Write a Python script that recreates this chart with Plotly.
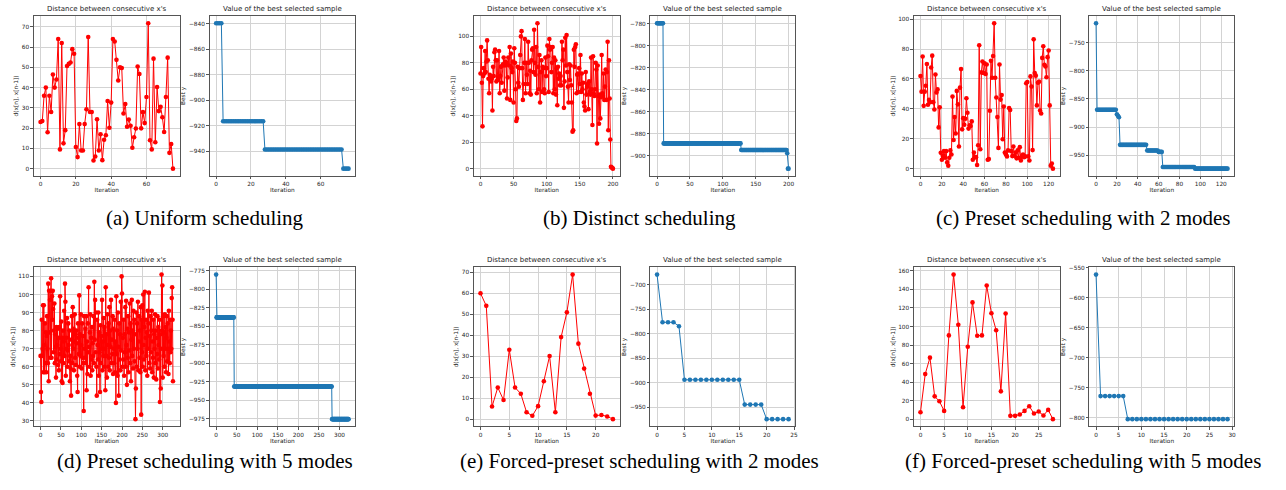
import numpy as np
import plotly.graph_objects as go

# ---------------- data ----------------
# (a) Uniform scheduling
a_dist = [23, 23.5, 36, 40, 18, 36, 28, 46.5, 40, 44, 64, 9.5, 62, 12.5, 19, 50.7, 51.7, 52.4, 59, 56.7,
          10.7, 5.7, 22, 9, 9, 22, 29.3, 65, 28, 28, 4, 6, 24.4, 9, 17, 4.2, 14.3, 16.5, 33.4, 20.2,
          32.6, 64, 62.8, 53.7, 43.5, 50, 49.7, 27.2, 31.9, 20.7, 24.3, 21.2, 10.3, 15.5, 19.8, 50.4, 46.7, 19.9, 27.9, 22.5,
          35.4, 71.8, 14, 9.5, 54.3, 13, 40.3, 28.4, 30.5, 25.4, 18.1, 35.4, 54.8, 7.8, 12.2, 0]
a_best_levels = [-839.5, -916.6, -938.7, -953.8]
a_best_counts = [4, 24, 45, 4]

# (b) Distinct scheduling
b_dist = [72, 92, 65, 32, 70, 76, 72, 89, 73, 81, 97, 82, 68, 57, 71, 70, 66, 68, 44, 77,
          70, 88, 90, 82, 66, 82, 67, 69, 89, 57, 70, 77, 65, 78, 79, 84, 59, 78, 81, 80,
          53, 69, 84, 78, 92, 52, 87, 76, 73, 81, 50, 91, 80, 60, 36, 38, 77, 65, 62, 76,
          86, 100, 104, 76, 52, 64, 80, 98, 57, 80, 71, 64, 96, 80, 57, 74, 56, 82, 90, 91,
          73, 105, 80, 71, 92, 57, 110, 77, 60, 86, 50, 73, 82, 58, 77, 76, 60, 57, 84, 70,
          76, 93, 85, 58, 98, 90, 92, 73, 80, 92, 57, 84, 60, 82, 56, 76, 48, 77, 68, 72,
          63, 70, 63, 96, 82, 90, 46, 66, 99, 78, 101, 73, 62, 50, 79, 67, 78, 63, 50, 28,
          29, 90, 77, 92, 94, 57, 71, 72, 58, 76, 64, 86, 58, 72, 60, 65, 50, 47, 44, 73,
          56, 62, 64, 45, 66, 58, 56, 84, 60, 33, 85, 57, 55, 60, 80, 75, 19, 78, 55, 34,
          56, 38, 54, 86, 57, 55, 72, 52, 62, 75, 52, 73, 96, 29, 82, 53, 22, 1.5, 1, 0.5, 0]
b_best_levels = [-779.5, -889, -895, -898, -912]
b_best_counts = [10, 118, 70, 1, 2]

# (c) Preset scheduling with 2 modes
c_dist = [62, 51.5, 75, 42, 51.5, 55.5, 70, 42.7, 46, 44.5, 67.7, 75.6, 44.5, 39.6, 63, 51, 53, 27.6, 41, 10.6,
          6, 8.6, 11.7, 7.3, 11.7, 4.2, 2, 7.3, 12.2, 9.5, 48.2, 19.2, 34.5, 23.5, 52, 43, 14.8, 54.2, 66.6, 26.3,
          33.8, 29.4, 33.4, 47.1, 37.4, 26.8, 29, 28.5, 31.6, 6, 10.8, 7.7, 7.7, 2.4, 15.7, 82.5, 13, 64.4, 71.7, 64,
          70.4, 63.3, 69.7, 6, 6.4, 38.7, 72.1, 60.8, 75.4, 97.3, 60.8, 47.6, 34.5, 13.9, 69.7, 46.2, 49.3, 19.7, 41.6, 10.8,
          9.5, 8.2, 12.2, 40.5, 39.2, 11.7, 8.4, 14.8, 8.6, 10.8, 6.9, 12.2, 7.3, 14.4, 5.5, 8.2, 9.5, 7.7, 8.2, 57.1,
          58, 8.2, 5.5, 61.7, 54.9, 12.4, 86.5, 64, 62.2, 42.3, 57.5, 58.2, 38.9, 36.9, 74.1, 81.9, 69.5, 68.4, 61.1, 74.6,
          79, 42.3, 2, 3.5, 0]
c_best_levels = [-715.5, -869.2, -877.4, -880, -882.5, -931.5, -941.6, -944, -970.8, -973.8]
c_best_counts = [1, 19, 1, 1, 1, 26, 11, 4, 31, 32]

# (d) Preset scheduling with 5 modes
d_dist = [66, 46, 40.5, 86, 66, 70, 94, 57, 94, 72, 57, 84, 62, 79, 57, 77, 88, 70, 62, 106,
          52, 102, 79, 97, 65, 102, 109, 65, 99, 86, 102, 92, 68, 80, 95, 62, 78, 71, 54, 82,
          64, 72, 81, 61, 76, 58, 82, 67, 99, 70, 63, 85, 52, 76, 51, 80, 62, 74, 91, 66,
          106, 96, 55, 76, 70, 87, 60, 69, 84, 72, 63, 80, 52, 66, 59, 44, 75, 88, 62, 93,
          70, 81, 58, 74, 89, 65, 78, 61, 80, 73, 55, 46, 84, 76, 67, 99.5, 60, 78, 66, 89,
          72, 59, 84, 65, 77, 62, 35.5, 88, 70, 65, 81, 62, 88, 47, 74, 56, 84, 68, 104, 71,
          60, 79, 89, 55, 76, 64, 82, 58, 73, 66, 88, 62, 107, 75, 97, 68, 90, 60, 44, 86,
          72, 64, 90, 55, 79, 68, 46, 83, 62, 77, 70, 97, 58, 74, 66, 87, 60, 82, 70, 47,
          104, 66, 78, 54, 89, 72, 60, 84, 65, 93, 58, 80, 71, 97, 62, 75, 67, 88, 56, 81,
          70, 62, 86, 57, 74, 40, 99, 67, 80, 55, 90, 71, 44, 84, 64, 78, 58, 96, 69, 110,
          100.5, 60, 76, 64, 86, 55, 78, 68, 93, 60, 96.5, 72, 50, 81, 65, 88, 57, 79, 69, 95,
          62, 84, 52, 75, 97, 66, 80, 59, 91, 70, 86, 63, 78, 31, 48, 90, 60, 84, 70, 96,
          58, 74, 88, 65, 80, 57, 93, 33.5, 86, 68, 94, 60, 100, 72, 64, 82, 101.5, 58, 76, 86,
          66, 79, 55, 91, 70, 84, 101, 62, 77, 59, 88, 68, 80, 91, 57, 74, 65, 86, 54, 78,
          70, 89, 62, 80, 53, 76, 67, 88, 59, 82, 72, 64, 86, 40.5, 78, 48, 70, 111, 80, 105,
          54, 88, 66, 79, 60, 89, 70, 82, 57, 76, 88, 63, 84, 70, 56, 91, 74, 62, 86, 68,
          80, 70, 98, 104, 86, 52]
d_best_levels = [-780, -838, -931.6, -975.9]
d_best_counts = [1, 43, 238, 41]

# (e) Forced-preset scheduling with 2 modes
e_dist = [60, 54, 6, 15.1, 9.1, 33.1, 15.1, 12.1, 3.3, 1.6, 6.2, 18.1, 30.1, 3.3, 39.1, 50.9, 68.9, 36, 24.1, 12.1,
          1.7, 2, 1.3, 0]
e_best_levels = [-679, -776.2, -784.3, -893.6, -944.2, -973.9]
e_best_counts = [1, 3, 1, 11, 4, 5]

# (f) Forced-preset scheduling with 5 modes
f_dist = [7.5, 48.6, 66.4, 24.6, 19.3, 8.9, 90.4, 156, 101.8, 12.9, 78.2, 126, 90, 90.4, 144.3, 114.3, 96, 30, 114, 3.6,
          3.6, 5, 8.9, 13.9, 6.1, 8.2, 3.9, 10, 0]
f_best_levels = [-561.6, -764.3, -802.8]
f_best_counts = [1, 6, 23]

captions = ["(a) Uniform scheduling", "(b) Distinct scheduling", "(c) Preset scheduling with 2 modes",
            "(d) Preset scheduling with 5 modes", "(e) Forced-preset scheduling with 2 modes",
            "(f) Forced-preset scheduling with 5 modes"]
left_title = "Distance between consecutive x's"
right_title = "Value of the best selected sample"
left_ylabel = "d(x[n], x[n-1])"
right_ylabel = "Best y"
xlabel = "Iteration"

panels = [
    (a_dist, a_best_levels, a_best_counts, (20, 10), (20, 20)),
    (b_dist, b_best_levels, b_best_counts, (50, 20), (50, 20)),
    (c_dist, c_best_levels, c_best_counts, (20, 20), (20, 50)),
    (d_dist, d_best_levels, d_best_counts, (50, 10), (50, 25)),
    (e_dist, e_best_levels, e_best_counts, (5, 10), (5, 50)),
    (f_dist, f_best_levels, f_best_counts, (5, 20), (5, 50)),
]

# ---------------- layout geometry (pixels) ----------------
W, H = 1286, 490
col_px = [(34, 180, 210, 356), (475, 621, 652, 797), (916, 1062, 1092, 1237)]
row_px = [(13, 174), (266, 426)]
cap_y = [216, 461]
cap_x = [205, 641, 1086]

TXT = "#222222"
FONT = "DejaVu Sans"
TICKF = 5.8
TITLEF = 7


def pad(vals):
    lo, hi = float(np.min(vals)), float(np.max(vals))
    m = 0.05 * (hi - lo)
    return [lo - m, hi + m]


fig = go.Figure()
layout = {}
annotations = []
ax = 0
for p, (dist, lv, ct, ldt, rdt) in enumerate(panels):
    r, c = divmod(p, 3)
    yt, yb = row_px[r]
    ydom = [(H - yb) / H, (H - yt) / H]
    best = np.repeat(lv, ct)
    for side in range(2):
        ax += 1
        x0, x1 = col_px[c][2 * side], col_px[c][2 * side + 1]
        xdom = [x0 / W, x1 / W]
        if side == 0:
            yv = np.array(dist, dtype=float)
            color = "red"
            dt = ldt
            ttl, ylab = left_title, left_ylabel
        else:
            yv = best
            color = "#1f77b4"
            dt = rdt
            ttl, ylab = right_title, right_ylabel
        xv = np.arange(len(yv))
        sfx = "" if ax == 1 else str(ax)
        fig.add_trace(go.Scatter(x=xv, y=yv, mode="lines+markers",
                                 line=dict(color=color, width=1),
                                 marker=dict(color=color, size=4.6),
                                 xaxis="x" + sfx, yaxis="y" + sfx, showlegend=False,
                                 hoverinfo="skip"))
        common = dict(showgrid=True, gridcolor="#d3d3d3", gridwidth=0.8,
                      showline=True, mirror=True, linecolor="#555555", linewidth=1,
                      ticks="outside", ticklen=2.5, tickwidth=0.8, tickcolor="#555555",
                      tickfont=dict(family=FONT, size=TICKF, color=TXT),
                      zeroline=False, fixedrange=True)
        layout["xaxis" + sfx] = dict(domain=xdom, anchor="y" + sfx, range=pad(xv),
                                     tick0=0, dtick=dt[0],
                                     title=dict(text=xlabel, font=dict(family=FONT, size=TICKF, color=TXT), standoff=1),
                                     **common)
        layout["yaxis" + sfx] = dict(domain=ydom, anchor="x" + sfx, range=pad(yv),
                                     tick0=0, dtick=dt[1],
                                     title=dict(text=ylab, font=dict(family=FONT, size=TICKF, color=TXT), standoff=2),
                                     **common)
        annotations.append(dict(text=ttl, x=(xdom[0] + xdom[1]) / 2, y=ydom[1], xref="paper", yref="paper",
                                xanchor="center", yanchor="bottom", yshift=1, showarrow=False,
                                font=dict(family=FONT, size=TITLEF, color=TXT)))
    annotations.append(dict(text=captions[p], x=cap_x[c] / W, y=(H - cap_y[r]) / H, xref="paper", yref="paper",
                            xanchor="center", yanchor="middle", showarrow=False,
                            font=dict(family="Liberation Serif", size=21, color="#000000")))

fig.update_layout(width=W, height=H, margin=dict(l=0, r=0, t=0, b=0),
                  paper_bgcolor="white", plot_bgcolor="white",
                  annotations=annotations, **layout)
fig.write_html("out.html")
